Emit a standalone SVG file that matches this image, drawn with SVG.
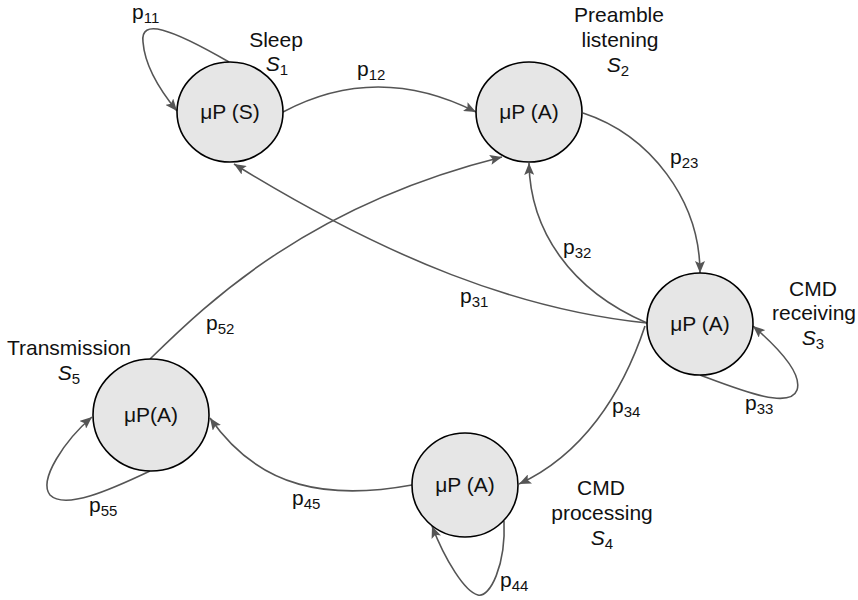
<svg xmlns="http://www.w3.org/2000/svg" width="858" height="600" viewBox="0 0 858 600">
<style>
  .node ellipse { fill: #e6e6e6; stroke: #000; stroke-width: 1.6; }
  .nt { font-family: "Liberation Sans", Arial, sans-serif; font-size: 21px; fill: #111; text-anchor: middle; }
  .lbl { font-family: "Liberation Sans", Arial, sans-serif; font-size: 21px; fill: #111; }
  .it { font-style: italic; }
  .sub { font-size: 15px; }
  .edge { fill: none; stroke: #555; stroke-width: 1.6; }
  .arr { marker-end: url(#ah); }
</style>
<defs>
  <marker id="ah" viewBox="0 0 12 10" refX="12" refY="5" markerWidth="12" markerHeight="10" markerUnits="userSpaceOnUse" orient="auto">
    <path d="M0,0 L12,5 L0,10 L2.5,5 z" fill="#555"/>
  </marker>
</defs>
<rect width="858" height="600" fill="#fff"/>

<g id="connectors">
  <path id="e11" class="edge arr" d="M229,62 C170,28 140,18 143,42 C145,68 163,94 177,111"/>
  <path id="e12" class="edge arr" d="M283,112 Q377,62 476,112"/>
  <path id="e23" class="edge arr" d="M583,113 C650,135 700,200 700,273"/>
  <path id="e32" class="edge arr" d="M647,323 C570,290 530,230 529,163"/>
  <path id="e31" class="edge arr" d="M647,323 C520,310 390,260 234,164"/>
  <path id="e52" class="edge arr" d="M150,359 C210,300 310,205 502,157"/>
  <path id="e34" class="edge arr" d="M645,326 C622,395 582,455 519,484"/>
  <path id="e33" class="edge arr" d="M700,375 C740,390 790,410 797,390 C803,372 775,345 753,326"/>
  <path id="e44" class="edge arr" d="M504,521 C506,565 490,598 478,595 C465,592 445,560 432,526"/>
  <path id="e45" class="edge arr" d="M412,485 C330,500 260,490 210,418"/>
  <path id="e55" class="edge arr" d="M150,471 C110,490 65,510 50,495 C38,480 65,440 92,417"/>

  <text class="lbl" x="132" y="19">p<tspan class="sub" dy="4">11</tspan></text>
  <text class="lbl" x="357" y="76">p<tspan class="sub" dy="4">12</tspan></text>
  <text class="lbl" x="670" y="164">p<tspan class="sub" dy="4">23</tspan></text>
  <text class="lbl" x="563" y="254">p<tspan class="sub" dy="4">32</tspan></text>
  <text class="lbl" x="460" y="303">p<tspan class="sub" dy="4">31</tspan></text>
  <text class="lbl" x="206" y="330">p<tspan class="sub" dy="4">52</tspan></text>
  <text class="lbl" x="612" y="413">p<tspan class="sub" dy="4">34</tspan></text>
  <text class="lbl" x="745" y="410">p<tspan class="sub" dy="4">33</tspan></text>
  <text class="lbl" x="292" y="505">p<tspan class="sub" dy="4">45</tspan></text>
  <text class="lbl" x="89" y="512">p<tspan class="sub" dy="4">55</tspan></text>
  <text class="lbl" x="500" y="587">p<tspan class="sub" dy="4">44</tspan></text>
</g>

<g id="s1" class="node">
  <ellipse cx="230" cy="112" rx="53" ry="50"/>
  <text class="nt" x="230" y="119">μP (S)</text>
  <text class="nt" x="276" y="47">Sleep</text>
  <text class="nt" x="277" y="71"><tspan class="it">S</tspan><tspan class="sub" dy="4">1</tspan></text>
</g>

<g id="s2" class="node">
  <ellipse cx="529" cy="112" rx="53" ry="50"/>
  <text class="nt" x="529" y="119">μP (A)</text>
  <text class="nt" x="619" y="22">Preamble</text>
  <text class="nt" x="620" y="47">listening</text>
  <text class="nt" x="618" y="72"><tspan class="it">S</tspan><tspan class="sub" dy="4">2</tspan></text>
</g>

<g id="s3" class="node">
  <ellipse cx="700" cy="324" rx="53" ry="51"/>
  <text class="nt" x="700" y="331">μP (A)</text>
  <text class="nt" x="813" y="296">CMD</text>
  <text class="nt" x="814" y="320">receiving</text>
  <text class="nt" x="813" y="345"><tspan class="it">S</tspan><tspan class="sub" dy="4">3</tspan></text>
</g>

<g id="s4" class="node">
  <ellipse cx="465" cy="485" rx="53" ry="52"/>
  <text class="nt" x="465" y="492">μP (A)</text>
  <text class="nt" x="601" y="495">CMD</text>
  <text class="nt" x="602" y="520">processing</text>
  <text class="nt" x="602" y="545"><tspan class="it">S</tspan><tspan class="sub" dy="4">4</tspan></text>
</g>

<g id="s5" class="node">
  <ellipse cx="151" cy="415" rx="58" ry="56"/>
  <text class="nt" x="151" y="422">μP(A)</text>
  <text class="nt" x="69" y="355">Transmission</text>
  <text class="nt" x="69" y="380"><tspan class="it">S</tspan><tspan class="sub" dy="4">5</tspan></text>
</g>
</svg>
